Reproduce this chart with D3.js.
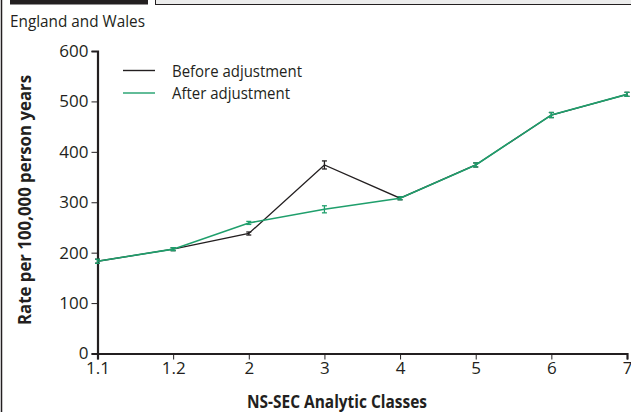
<!DOCTYPE html>
<html><head><meta charset="utf-8">
<script src="https://cdn.jsdelivr.net/npm/d3@7"></script>
<style>
html,body{margin:0;padding:0;background:#fff;}
svg{display:block;font-family:"Open Sans",sans-serif;}
</style></head>
<body>
<svg id="c" width="631" height="412"></svg>
<script>
const categories = ["1.1","1.2","2","3","4","5","6","7"];
const beforeValues = [183, 207, 238, 374, 308, 374, 473, 514];
const beforeErrors = [4, 3, 3, 8, 3, 4, 5, 4];
const afterValues = [183, 207, 259, 286, 308, 374, 473, 514];
const afterErrors = [4, 3, 3, 7, 3, 4, 5, 4];
const yTicks = [0, 100, 200, 300, 400, 500, 600];
const seriesNames = ["Before adjustment", "After adjustment"];
const legendWidths = [130, 118];
const colors = ["#231f20", "#1f9f6c"];

const svg = d3.select("#c");
const ink = "#231f20";

// frame decorations
svg.append("line").attr("x1",1.5).attr("x2",1.5).attr("y1",0).attr("y2",412).attr("stroke",ink).attr("stroke-width",1.5);
svg.append("rect").attr("x",10).attr("y",0).attr("width",138).attr("height",4.5).attr("fill",ink);
svg.append("rect").attr("x",155.5).attr("y",-2).attr("width",480).attr("height",6.5).attr("fill","#ececec").attr("stroke",ink).attr("stroke-width",1);

svg.append("text").attr("x",10).attr("y",27).attr("font-size",17).attr("fill",ink)
  .attr("textLength",135).attr("lengthAdjust","spacingAndGlyphs").text("England and Wales");

const x = d3.scalePoint().domain(categories).range([97.5, 627]).padding(0);
const y = d3.scaleLinear().domain([0, 600]).range([353.5, 51]);

const yAxis = svg.append("g").attr("transform","translate(97.5,0)")
  .call(d3.axisLeft(y).tickValues(yTicks).tickSize(6).tickSizeOuter(6).tickPadding(3));
const xAxis = svg.append("g").attr("transform","translate(0,353.5)")
  .call(d3.axisBottom(x).tickSize(6).tickSizeOuter(6).tickPadding(2));
[yAxis, xAxis].forEach(a => {
  a.select(".domain").attr("stroke", ink).attr("stroke-width", 2.2);
  a.selectAll(".tick line").attr("stroke", ink).attr("stroke-width", 1);
  a.selectAll(".tick text").attr("font-size", 17).attr("fill", ink).attr("font-family", '"Open Sans",sans-serif');
});

svg.append("text").attr("transform","translate(31,200) rotate(-90)").attr("text-anchor","middle")
  .attr("font-size",17).attr("font-weight","bold").attr("fill",ink)
  .attr("textLength",250).attr("lengthAdjust","spacingAndGlyphs").text("Rate per 100,000 person years");
svg.append("text").attr("x",337).attr("y",408).attr("text-anchor","middle")
  .attr("font-size",17).attr("font-weight","bold").attr("fill",ink)
  .attr("textLength",180).attr("lengthAdjust","spacingAndGlyphs").text("NS-SEC Analytic Classes");

const series = [
  {vals: beforeValues, errs: beforeErrors, color: colors[0], w: 1.3},
  {vals: afterValues, errs: afterErrors, color: colors[1], w: 1.6}
];
const line = d3.line().x(d => x(d.c)).y(d => y(d.v));
series.forEach(s => {
  const pts = categories.map((c,i) => ({c, v: s.vals[i], e: s.errs[i]}));
  svg.append("path").datum(pts).attr("d", line).attr("fill","none").attr("stroke", s.color).attr("stroke-width", s.w);
  const g = svg.append("g").attr("stroke", s.color).attr("stroke-width", 1.3);
  pts.forEach(p => {
    const cx = x(p.c);
    g.append("line").attr("x1",cx).attr("x2",cx).attr("y1",y(p.v-p.e)).attr("y2",y(p.v+p.e));
    g.append("line").attr("x1",cx-2.5).attr("x2",cx+2.5).attr("y1",y(p.v-p.e)).attr("y2",y(p.v-p.e));
    g.append("line").attr("x1",cx-2.5).attr("x2",cx+2.5).attr("y1",y(p.v+p.e)).attr("y2",y(p.v+p.e));
  });
});

// legend
const leg = svg.append("g");
seriesNames.forEach((n,i) => {
  const ly = 70.5 + i*22.5;
  leg.append("line").attr("x1",123).attr("x2",155).attr("y1",ly).attr("y2",ly).attr("stroke",colors[i]).attr("stroke-width",1.4);
  leg.append("text").attr("x",172).attr("y",ly+6).attr("font-size",17).attr("fill",ink)
    .attr("textLength",legendWidths[i]).attr("lengthAdjust","spacingAndGlyphs").text(n);
});
</script>
</body></html>
